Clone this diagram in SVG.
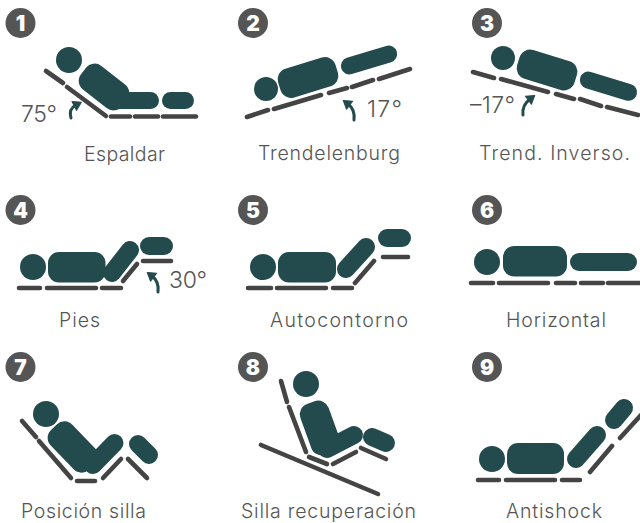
<svg xmlns="http://www.w3.org/2000/svg" width="640" height="523" viewBox="0 0 640 523">
<style>
.b{fill:#234a4c}
.s{fill:none;stroke:#234a4c;stroke-linecap:round}
.l{fill:none;stroke:#444;stroke-width:4.6;stroke-linecap:round}
.c{fill:#555}
.n{font:900 21px "Inter","DejaVu Sans",sans-serif;fill:#fff;text-anchor:middle}
.t{font:300 19.5px "Inter","Liberation Sans",sans-serif;fill:#555}
.d{font:300 23px "Inter","Liberation Sans",sans-serif;fill:#555}
.a{fill:none;stroke:#234a4c;stroke-width:3;stroke-linecap:round;marker-end:url(#h)}
</style>
<defs>
<marker id="h" markerUnits="userSpaceOnUse" markerWidth="14" markerHeight="14" refX="3" refY="7" orient="auto">
<path d="M1 2 9 7 1 12Z" fill="#234a4c" stroke="#234a4c" stroke-width="1" stroke-linejoin="round"/>
</marker>
</defs>
<g id="connectors">
<path class="a" d="M71 118C69 111 72 107 76 105"/>
<path class="a" d="M354 120C355 112 352 107 348 104"/>
<path class="a" d="M523 115C522 107 526 102 530 99"/>
<path class="a" d="M158 292C159 284 156 279 152 276"/>
</g>
<g id="node1">
<circle class="c" cx="20.500" cy="23" r="15"/><text class="n" x="20.500" y="30.500">1</text>
<circle class="b" cx="69" cy="60" r="13"/>
<rect class="b" x="78" y="72" width="52" height="30" rx="11" transform="rotate(38 104 87)"/>
<rect class="b" x="110" y="92" width="49" height="17" rx="8.500"/>
<rect class="b" x="162" y="92" width="32" height="17" rx="8.500"/>
<path class="l" d="M46 71 63 83M67 87 106 116M111 116.500H130M135 116.500H158M163 116.500H196"/>
<text class="d" x="21" y="122" textLength="36" lengthAdjust="spacing">75°</text>
<text class="t" x="84" y="161" textLength="81" lengthAdjust="spacing">Espaldar</text>
</g>
<g id="node2">
<circle class="c" cx="253" cy="23" r="15"/><text class="n" x="253" y="30.500">2</text>
<circle class="b" cx="266" cy="89" r="12"/>
<rect class="b" x="278" y="62.500" width="60" height="30" rx="11" transform="rotate(-17 308 77.500)"/>
<rect class="b" x="340" y="51.500" width="58" height="17" rx="8.500" transform="rotate(-17 369 60)"/>
<path class="l" d="M247 117 268 110M274 109 321 95M329 93 347 88M352 87 373 80M379 79 410 69"/>
<text class="d" x="367" y="117" textLength="35" lengthAdjust="spacing">17°</text>
<text class="t" x="258" y="160" textLength="142" lengthAdjust="spacing">Trendelenburg</text>
</g>
<g id="node3">
<circle class="c" cx="487" cy="23" r="15"/><text class="n" x="487" y="30.500">3</text>
<circle class="b" cx="503" cy="58" r="12"/>
<rect class="b" x="517" y="55" width="60" height="30" rx="11" transform="rotate(17 547 70)"/>
<rect class="b" x="579" y="77.500" width="59" height="17" rx="8.500" transform="rotate(17 608 86)"/>
<path class="l" d="M473 72 494 78M501 79 548 92M556 94 574 99M580 99 601 106M607 107 638 115"/>
<text class="d" x="470" y="113" textLength="45" lengthAdjust="spacing">–17°</text>
<text class="t" x="479" y="160" textLength="151" lengthAdjust="spacing">Trend. Inverso.</text>
</g>
<g id="node4">
<circle class="c" cx="20.500" cy="210" r="15"/><text class="n" x="20.500" y="217.500">4</text>
<circle class="b" cx="33" cy="267" r="13"/>
<rect class="b" x="48" y="252" width="57.500" height="30.500" rx="11"/>
<path class="s" stroke-width="18" d="M112 273 130 250"/>
<rect class="b" x="140" y="237" width="33" height="18" rx="9"/>
<path class="l" d="M19 288H40M47 288H96M102 288H121M123 281 137 264M143 261H171"/>
<text class="d" x="169" y="288" textLength="38" lengthAdjust="spacing">30°</text>
<text class="t" x="59" y="327" textLength="41" lengthAdjust="spacing">Pies</text>
</g>
<g id="node5">
<circle class="c" cx="253" cy="210" r="15"/><text class="n" x="253" y="217.500">5</text>
<circle class="b" cx="263" cy="267" r="13"/>
<rect class="b" x="278" y="252" width="58" height="30.500" rx="11"/>
<path class="s" stroke-width="18" d="M346 269 366 247"/>
<rect class="b" x="378" y="229" width="33" height="18" rx="9"/>
<path class="l" d="M248 288H271M277 288H326M333 288H352M355 283 374 261M383 257H408"/>
<text class="t" x="270" y="327" textLength="138" lengthAdjust="spacing">Autocontorno</text>
</g>
<g id="node6">
<circle class="c" cx="487" cy="210" r="15"/><text class="n" x="487" y="217.500">6</text>
<circle class="b" cx="487" cy="262" r="13"/>
<rect class="b" x="503" y="246" width="64" height="30.500" rx="11"/>
<rect class="b" x="570" y="253" width="67" height="18" rx="9"/>
<path class="l" d="M471 283H493M499 283H548M556 283H575M581 283H603M608 283H642"/>
<text class="t" x="506" y="327" textLength="100" lengthAdjust="spacing">Horizontal</text>
</g>
<g id="node7">
<circle class="c" cx="20.500" cy="367" r="15"/><text class="n" x="20.500" y="374.500">7</text>
<circle class="b" cx="46" cy="414" r="13"/>
<rect class="b" x="45.500" y="432" width="55" height="30" rx="11" transform="rotate(46 73 447)"/>
<path class="s" stroke-width="18" d="M93 465 114.500 443"/>
<path class="s" stroke-width="18" d="M138 444 149 455"/>
<path class="l" d="M22 421 36 437M39 441 71 478M77 481H95M103 478 121 459M128 459 147 478"/>
<text class="t" x="21" y="518" textLength="125" lengthAdjust="spacing">Posición silla</text>
</g>
<g id="node8">
<circle class="c" cx="253" cy="367" r="15"/><text class="n" x="253" y="374.500">8</text>
<circle class="b" cx="306" cy="384" r="13"/>
<rect class="b" x="293" y="413" width="54" height="30" rx="11" transform="rotate(70 320 428)"/>
<path class="s" stroke-width="18" d="M327 449 354 435"/>
<path class="s" stroke-width="18" d="M372 437 386 443"/>
<path class="l" d="M281 381 287 402M289 407 306 452M309 457 327 464M333 464 356 452M361 448 386 459M261 445 378 494"/>
<text class="t" x="241" y="518" textLength="175" lengthAdjust="spacing">Silla recuperación</text>
</g>
<g id="node9">
<circle class="c" cx="487" cy="367" r="15"/><text class="n" x="487" y="374.500">9</text>
<circle class="b" cx="492" cy="459" r="13"/>
<rect class="b" x="507" y="443" width="57" height="31" rx="11"/>
<path class="s" stroke-width="18" d="M576 459 597 435"/>
<path class="s" stroke-width="18" d="M614 420 624 408"/>
<path class="l" d="M478 480H499M506 480H555M562 480H580M590 472 612 446M620 438 642 414"/>
<text class="t" x="506" y="518" textLength="96" lengthAdjust="spacing">Antishock</text>
</g>
</svg>
